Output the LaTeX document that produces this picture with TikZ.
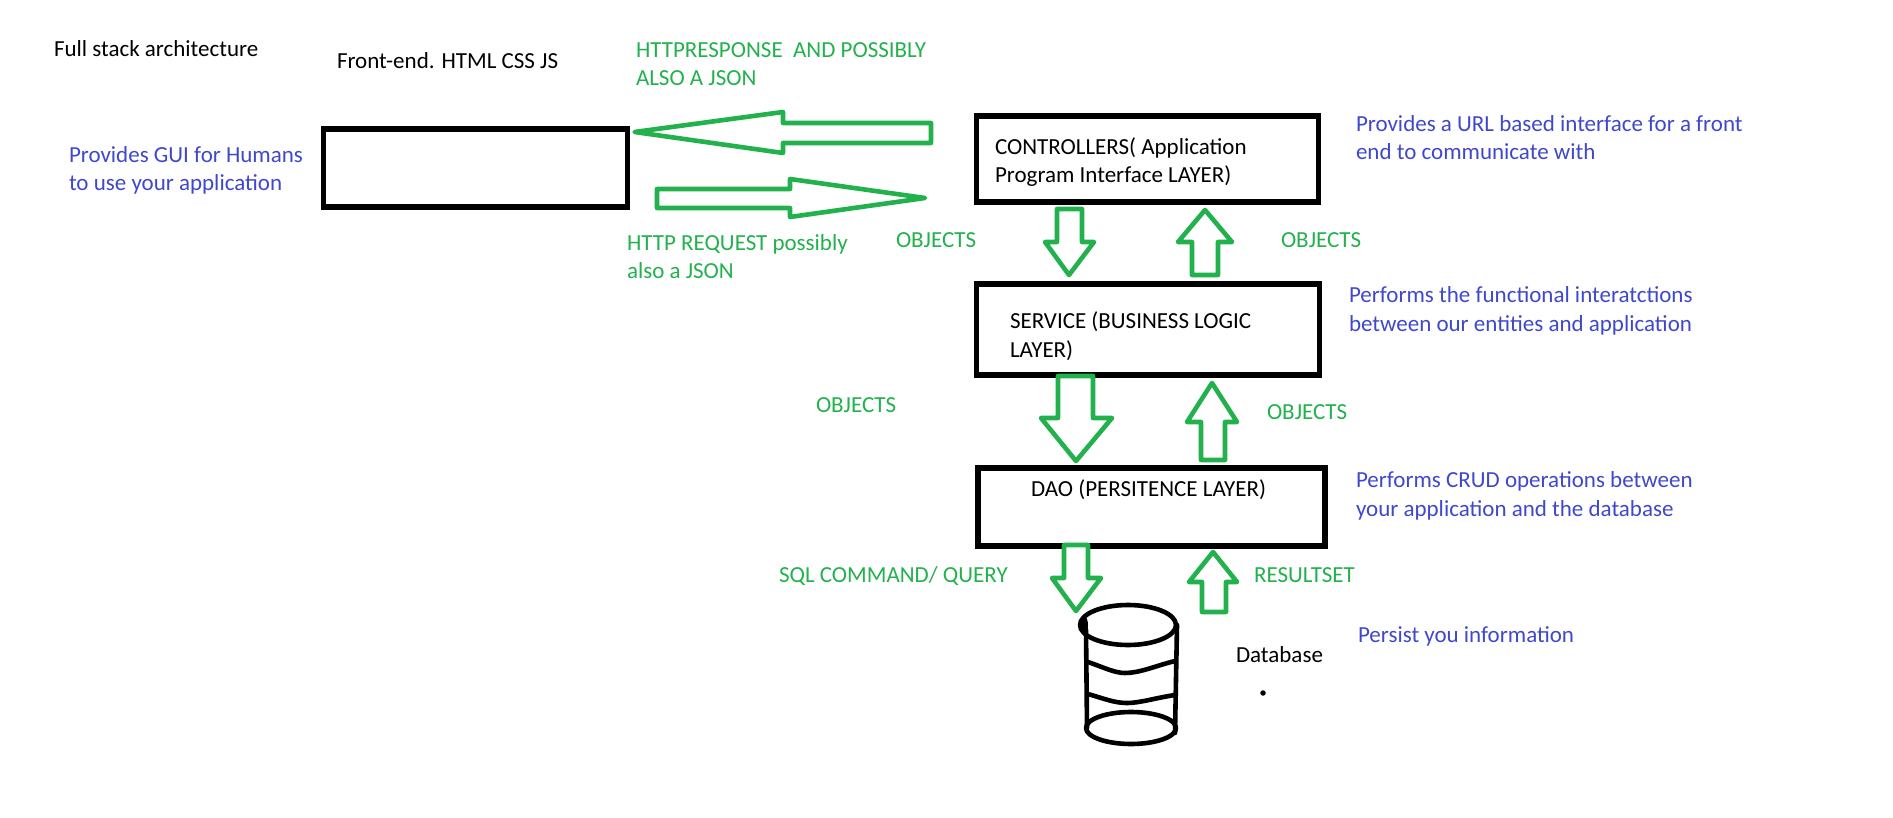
\documentclass[tikz,border=0pt]{standalone}
\usepackage{fontspec}
\setmainfont{Carlito}
\definecolor{paintgreen}{RGB}{34,177,76}
\definecolor{paintblue}{RGB}{63,72,204}
\tikzset{
  lbl/.style={anchor=base west,inner sep=0pt,outer sep=0pt,font=\fontsize{23}{28.3}\selectfont,align=left},
  blacklbl/.style={lbl,text=black},
  greenlbl/.style={lbl,text=paintgreen},
  bluelbl/.style={lbl,text=paintblue},
  layerbox/.style={draw=black,line width=5.6pt,fill=white,inner sep=0pt,outer sep=0pt},
  blockarrow/.style={draw=paintgreen,line width=4.6pt,line join=round,fill=white},
  inkline/.style={draw=black,line width=4.6pt,line cap=round,line join=round}
}
\begin{document}
\begin{tikzpicture}[x=1pt,y=-1pt]
\useasboundingbox (0,0) rectangle (1893,818);
% boxes
\node[layerbox,minimum width=304pt,minimum height=78pt] (front) at (475.5,168) {};
\node[layerbox,minimum width=342pt,minimum height=86pt] (ctrl) at (1147.5,159) {};
\node[layerbox,minimum width=343pt,minimum height=91pt] (svc) at (1148,329.5) {};
\node[layerbox,minimum width=347pt,minimum height=78pt] (dao) at (1151.5,507) {};
% horizontal arrows
\draw[blockarrow] (634.6,132) -- (783,112) -- (783,123) -- (931,123) -- (931,143) -- (783,143) -- (783,153) -- cycle;
\draw[blockarrow] (657,189) -- (790,189) -- (790,179) -- (925,198) -- (790,217) -- (790,208) -- (657,208) -- cycle;
% controllers <-> service
\draw[blockarrow] (1057,209) -- (1082,209) -- (1082,242) -- (1094,242) -- (1069,275) -- (1045,242) -- (1057,242) -- cycle;
\draw[blockarrow] (1205,210) -- (1232,242) -- (1218,242) -- (1218,275) -- (1192,275) -- (1192,242) -- (1178,242) -- cycle;
% service <-> dao
\draw[blockarrow] (1058,376) -- (1093,376) -- (1093,418) -- (1112,418) -- (1076,461) -- (1041,418) -- (1058,418) -- cycle;
\draw[blockarrow] (1212,383) -- (1237,422) -- (1225,422) -- (1225,460) -- (1201,460) -- (1201,422) -- (1187,422) -- cycle;
% dao <-> database
\draw[blockarrow] (1064,545) -- (1088,545) -- (1088,578) -- (1101,578) -- (1076,611) -- (1052,578) -- (1064,578) -- cycle;
\draw[blockarrow] (1213,552) -- (1237,582) -- (1226,582) -- (1226,612) -- (1202,612) -- (1202,582) -- (1189,582) -- cycle;
% database
\draw[inkline] (1128,625) ellipse [x radius=48pt,y radius=20pt];
\draw[inkline] (1131,728) ellipse [x radius=45pt,y radius=16pt];
\draw[inkline] (1086,630) -- (1087,728);
\draw[inkline] (1177,625) -- (1175,733);
\draw[inkline] (1088,662) .. controls (1105,668) and (1115,673) .. (1125,673) .. controls (1140,673) and (1155,666) .. (1175,661);
\draw[inkline] (1088,694) .. controls (1105,699) and (1115,703) .. (1127,703) .. controls (1140,703) and (1155,698) .. (1175,695);
\fill[black] (1084,625) ellipse [x radius=4pt,y radius=9pt];
\node[circle,fill=black,inner sep=0pt,minimum size=5.5pt] (dot) at (1263,693) {};
% labels
\node[blacklbl] (title) at (54,57) {Full stack architecture};
\node[blacklbl] (fe) at (337,69) {Front-end. HTML CSS JS};
\node[greenlbl] (resp) at (636,86) {HTTPRESPONSE\ \ AND POSSIBLY\\ALSO A JSON};
\node[greenlbl] (req) at (627,279) {HTTP REQUEST possibly\\also a JSON};
\node[bluelbl] (gui) at (69,191) {Provides GUI for Humans\\to use your application};
\node[blacklbl] (ctrltxt) at (995,183) {CONTROLLERS( Application\\Program Interface LAYER)};
\node[blacklbl] (svctxt) at (1010,357) {SERVICE (BUSINESS LOGIC\\LAYER)};
\node[blacklbl] (daotxt) at (1031,496) {DAO (PERSITENCE LAYER)};
\node[bluelbl] (url) at (1356,160) {Provides a URL based interface for a front\\end to communicate with};
\node[bluelbl] (func) at (1349,331) {Performs the functional interatctions\\between our entities and application};
\node[bluelbl] (crud) at (1356,516) {Performs CRUD operations between\\your application and the database};
\node[bluelbl] (persist) at (1358,642) {Persist you information};
\node[greenlbl] (obj1) at (896,248) {OBJECTS};
\node[greenlbl] (obj2) at (1281,248) {OBJECTS};
\node[greenlbl] (obj3) at (816,412) {OBJECTS};
\node[greenlbl] (obj4) at (1267,419) {OBJECTS};
\node[greenlbl] (sql) at (779,582) {SQL COMMAND/ QUERY};
\node[greenlbl] (rs) at (1254,582) {RESULTSET};
\node[blacklbl] (db) at (1236,662) {Database};
\end{tikzpicture}
\end{document}
